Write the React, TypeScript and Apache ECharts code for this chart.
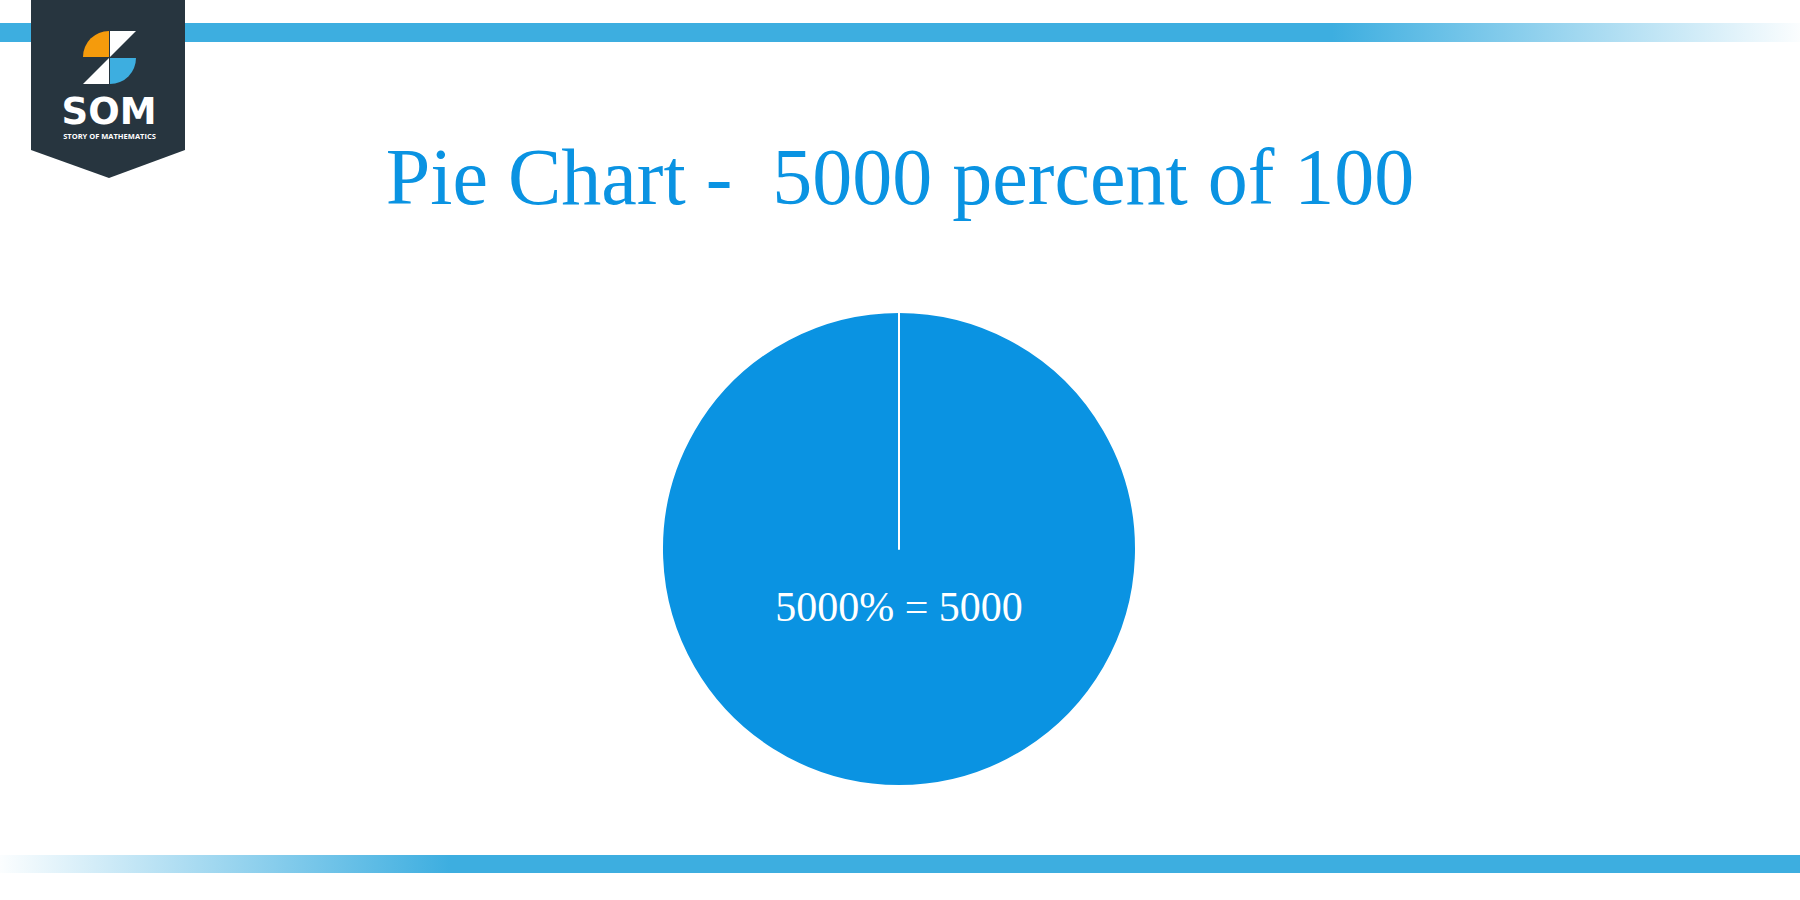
import React, { useEffect, useRef } from "react";
import * as echarts from "echarts";

const titleText = "Pie Chart -  5000 percent of 100";
const sliceNames = ["5000% = 5000", ""];
const sliceValues = [5000, 0];
const labelNames = ["5000% = 5000"];
const labelValues = [5000];

const BLUE = "#0a93e2";
const BAR = "#3daee0";

export default function App() {
  const ref = useRef<HTMLDivElement>(null);
  useEffect(() => {
    if (!ref.current) return;
    const chart = echarts.init(ref.current, null, { renderer: "svg" });
    const option: any = {
      animation: false,
      backgroundColor: "#ffffff",
      title: {
        text: titleText,
        left: "center",
        top: 132,
        textStyle: {
          fontFamily: "Liberation Serif",
          fontWeight: "normal",
          fontSize: 80,
          color: BLUE,
        },
      },
      graphic: [
        {
          type: "rect",
          shape: { x: 0, y: 23, width: 1800, height: 19 },
          style: {
            fill: new echarts.graphic.LinearGradient(0, 0, 1, 0, [
              { offset: 0, color: BAR },
              { offset: 0.74, color: BAR },
              { offset: 1, color: "rgba(61,174,224,0.02)" },
            ]),
          },
          silent: true,
        },
        {
          type: "rect",
          shape: { x: 0, y: 855, width: 1800, height: 18 },
          style: {
            fill: new echarts.graphic.LinearGradient(0, 0, 1, 0, [
              { offset: 0, color: "rgba(61,174,224,0.02)" },
              { offset: 0.25, color: BAR },
              { offset: 1, color: BAR },
            ]),
          },
          silent: true,
        },
        {
          type: "polygon",
          shape: { points: [[31, 0], [185, 0], [185, 150], [109, 178], [31, 150]] },
          style: { fill: "#27353f" },
          silent: true,
        },
        {
          type: "sector",
          shape: { cx: 109, cy: 57, r: 26, r0: 0, startAngle: Math.PI, endAngle: Math.PI * 1.5 },
          style: { fill: "#f59b0c" },
          silent: true,
        },
        {
          type: "polygon",
          shape: { points: [[110, 31], [136, 31], [110, 57]] },
          style: { fill: "#ffffff" },
          silent: true,
        },
        {
          type: "sector",
          shape: { cx: 110, cy: 58, r: 26, r0: 0, startAngle: 0, endAngle: Math.PI * 0.5 },
          style: { fill: BAR },
          silent: true,
        },
        {
          type: "polygon",
          shape: { points: [[83, 84], [109, 84], [109, 58]] },
          style: { fill: "#ffffff" },
          silent: true,
        },
        {
          type: "text",
          x: 109,
          y: 111,
          style: { text: "SOM", fill: "#ffffff", font: "bold 37px 'DejaVu Sans'", align: "center", verticalAlign: "middle" },
          silent: true,
        },
        {
          type: "text",
          x: 109.5,
          y: 135.5,
          style: { text: "STORY OF MATHEMATICS", fill: "#ffffff", font: "bold 7.5px 'Open Sans'", align: "center", verticalAlign: "middle" },
          silent: true,
        },
      ],
      series: [
        {
          type: "pie",
          center: [899, 549],
          radius: [0, 237],
          startAngle: 90,
          clockwise: true,
          silent: true,
          avoidLabelOverlap: false,
          label: { show: false },
          labelLine: { show: false },
          itemStyle: { color: BLUE, borderColor: "#ffffff", borderWidth: 2 },
          data: sliceNames.map((n, i) => ({ name: n, value: sliceValues[i] })),
        },
        {
          type: "pie",
          center: [899, 549],
          radius: [0, 110],
          startAngle: 90,
          clockwise: true,
          silent: true,
          itemStyle: { color: "rgba(0,0,0,0)" },
          label: {
            show: true,
            position: "inside",
            formatter: "{b}",
            fontFamily: "Liberation Serif",
            fontSize: 42,
            color: "#ffffff",
          },
          labelLine: { show: false },
          data: labelNames.map((n, i) => ({ name: n, value: labelValues[i] })),
        },
      ],
    };
    chart.setOption(option);
    return () => chart.dispose();
  }, []);
  return (
    <div
      ref={ref}
      style={{ position: "fixed", left: 0, top: 0, width: 1800, height: 900 }}
    />
  );
}
